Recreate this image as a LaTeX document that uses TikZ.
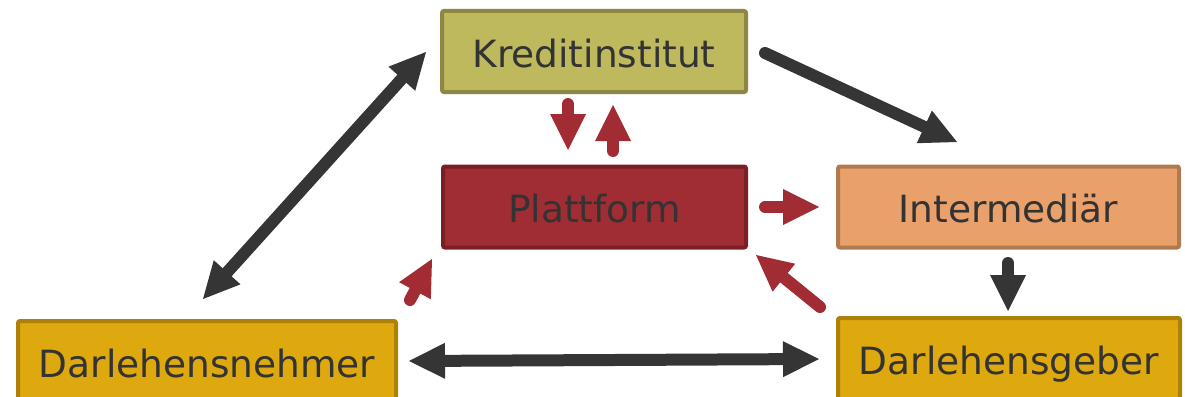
\documentclass[tikz,border=0pt]{standalone}
\usepackage{fontspec}
\setmainfont{DejaVu Sans}
\usetikzlibrary{arrows.meta}
\definecolor{txt}{HTML}{333333}
\definecolor{arrblack}{HTML}{353535}
\definecolor{arrred}{HTML}{A12C33}
\definecolor{kfill}{HTML}{BFB95E}
\definecolor{kdraw}{HTML}{8E8743}
\definecolor{pfill}{HTML}{A02D33}
\definecolor{pdraw}{HTML}{7A1F23}
\definecolor{ifill}{HTML}{E9A06A}
\definecolor{idraw}{HTML}{B07A50}
\definecolor{dfill}{HTML}{DEA90E}
\definecolor{ddraw}{HTML}{AD800A}
\tikzset{
  box/.style={rectangle, rounded corners=2pt, line width=4pt, minimum height=81pt,
    inner sep=0pt, text=txt, text height=31pt, text depth=0pt,
    font=\fontsize{37.5}{45}\selectfont},
  tipA/.tip={Triangle[length=36pt,width=36pt,line width=0pt]},
  conn/.style={line width=12pt, line cap=round},
  blk/.style={conn, draw=arrblack, fill=arrblack, -tipA},
  blk2/.style={conn, draw=arrblack, fill=arrblack, tipA-tipA},
  red/.style={conn, draw=arrred, fill=arrred, -tipA},
}
\begin{document}
\begin{tikzpicture}[x=1pt,y=-1pt]
\useasboundingbox (0,0) rectangle (1185,396);
\clip (0,0) rectangle (1185,396);
\node[box, fill=kfill, draw=kdraw, minimum width=304pt] (kredit) at (594,51.5) {Kreditinstitut};
\node[box, fill=pfill, draw=pdraw, minimum width=303pt] (platt) at (594.5,207) {Plattform};
\node[box, fill=ifill, draw=idraw, minimum width=341pt] (inter) at (1008.5,207) {Intermediär};
\node[box, fill=dfill, draw=ddraw, minimum width=342pt] (geber) at (1009,358.5) {Darlehensgeber};
\node[box, fill=dfill, draw=ddraw, minimum width=378pt] (nehmer) at (207,361.5) {Darlehensnehmer};

% connector end points
\coordinate (k2i-s) at (765,53);
\coordinate (k2i-e) at (957,142);
\coordinate (nk-s) at (203,299);
\coordinate (nk-e) at (426,52);
\coordinate (ng-s) at (409,361);
\coordinate (ng-e) at (819,359);
\coordinate (ig-s) at (1008,263);
\coordinate (ig-e) at (1008,311);
\coordinate (kp-s) at (568,104);
\coordinate (kp-e) at (568,150);
\coordinate (pk-s) at (613,151);
\coordinate (pk-e) at (613,105);
\coordinate (pi-s) at (765,207);
\coordinate (pi-e) at (819,207);
\coordinate (gp-s) at (820,307);
\coordinate (gp-e) at (756,255);
\coordinate (np-s) at (410,300);
\coordinate (np-e) at (432,259);

\draw[blk] (k2i-s) -- (k2i-e);
\draw[blk2] (nk-s) -- (nk-e);
\draw[blk2] (ng-s) -- (ng-e);
\draw[blk] (ig-s) -- (ig-e);
\draw[red] (kp-s) -- (kp-e);
\draw[red] (pk-s) -- (pk-e);
\draw[red] (pi-s) -- (pi-e);
\draw[red] (gp-s) -- (gp-e);
\draw[red] (np-s) -- (np-e);
\end{tikzpicture}
\end{document}
